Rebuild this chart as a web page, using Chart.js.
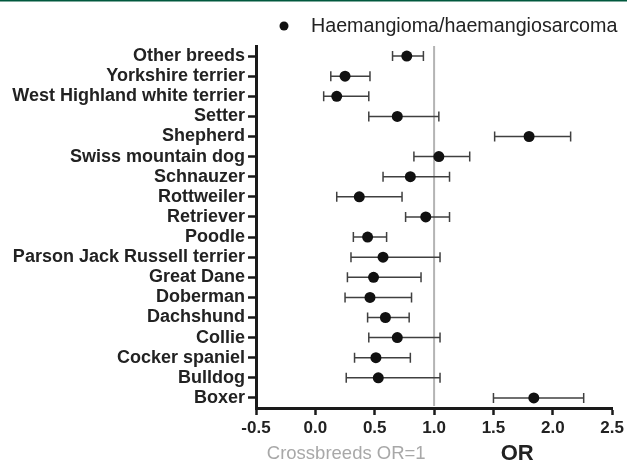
<!DOCTYPE html>
<html>
<head>
<meta charset="utf-8">
<script src="https://cdn.jsdelivr.net/npm/chart.js@4"></script>
<style>
  html, body { margin: 0; padding: 0; background: #fff; }
  #wrap { width: 627px; height: 463px; position: relative; }
</style>
</head>
<body>
<div id="wrap"><canvas id="chart" width="627" height="463"></canvas></div>
<script>
// breeds, top to bottom
const breeds = [
  'Other breeds', 'Yorkshire terrier', 'West Highland white terrier', 'Setter',
  'Shepherd', 'Swiss mountain dog', 'Schnauzer', 'Rottweiler', 'Retriever',
  'Poodle', 'Parson Jack Russell terrier', 'Great Dane', 'Doberman',
  'Dachshund', 'Collie', 'Cocker spaniel', 'Bulldog', 'Boxer'
];
const oddsRatio = [0.77, 0.25, 0.18, 0.69, 1.80, 1.04, 0.80, 0.37, 0.93, 0.44, 0.57, 0.49, 0.46, 0.59, 0.69, 0.51, 0.53, 1.84];
const ciLower   = [0.65, 0.13, 0.07, 0.45, 1.51, 0.83, 0.57, 0.18, 0.76, 0.32, 0.30, 0.27, 0.25, 0.44, 0.45, 0.33, 0.26, 1.50];
const ciUpper   = [0.91, 0.46, 0.45, 1.04, 2.15, 1.30, 1.13, 0.73, 1.13, 0.60, 1.05, 0.89, 0.81, 0.79, 1.05, 0.80, 1.05, 2.26];
const xTicks = [-0.5, 0.0, 0.5, 1.0, 1.5, 2.0, 2.5];
const seriesName = 'Haemangioma/haemangiosarcoma';
const refValue = 1.0;

const FONT = '"Liberation Sans", Arial, sans-serif';

const points = breeds.map((b, i) => ({ x: oddsRatio[i], y: b }));

const forestPlugin = {
  id: 'forest',
  beforeDatasetsDraw(chart) {
    const { ctx, chartArea, scales: { x, y } } = chart;
    ctx.save();
    // crossbreed reference line
    const rx = x.getPixelForValue(refValue);
    ctx.strokeStyle = '#b4b4b4';
    ctx.lineWidth = 2;
    ctx.beginPath();
    ctx.moveTo(rx, chartArea.top);
    ctx.lineTo(rx, chartArea.bottom - 2);
    ctx.stroke();

    // confidence intervals
    ctx.strokeStyle = '#404040';
    ctx.lineWidth = 1.5;
    breeds.forEach((b, i) => {
      const py = y.getPixelForValue(i);
      const x1 = x.getPixelForValue(ciLower[i]);
      const x2 = x.getPixelForValue(ciUpper[i]);
      ctx.beginPath();
      ctx.moveTo(x1, py); ctx.lineTo(x2, py);
      ctx.moveTo(x1, py - 5); ctx.lineTo(x1, py + 5);
      ctx.moveTo(x2, py - 5); ctx.lineTo(x2, py + 5);
      ctx.stroke();
    });
    ctx.restore();
  },
  afterDraw(chart) {
    const { ctx, scales: { x } } = chart;
    ctx.save();
    // top rule
    ctx.fillStyle = '#00583d';
    ctx.fillRect(0, 0, chart.width, 1.5);

    // legend
    ctx.fillStyle = '#111';
    ctx.beginPath();
    ctx.arc(284, 26, 4.5, 0, Math.PI * 2);
    ctx.fill();
    ctx.font = '19.7px ' + FONT;
    ctx.fillStyle = '#222';
    ctx.textBaseline = 'middle';
    ctx.textAlign = 'left';
    ctx.fillText(seriesName, 311, 27);

    // axis captions
    ctx.textAlign = 'center';
    ctx.font = '18.5px ' + FONT;
    ctx.fillStyle = '#a8a8a8';
    ctx.fillText('Crossbreeds OR=1', x.getPixelForValue(0.26), 454);
    ctx.font = 'bold 22px ' + FONT;
    ctx.fillStyle = '#222';
    ctx.fillText('OR', x.getPixelForValue(1.70), 454);
    ctx.restore();
  }
};

new Chart(document.getElementById('chart'), {
  type: 'scatter',
  data: {
    labels: breeds,
    datasets: [{
      label: seriesName,
      data: points,
      pointRadius: 5.5,
      pointHoverRadius: 5.5,
      backgroundColor: '#111',
      borderColor: '#111',
      borderWidth: 0
    }]
  },
  options: {
    responsive: false,
    animation: false,
    events: [],
    layout: { padding: { top: 46, right: 14, left: 0, bottom: 0 } },
    plugins: {
      legend: { display: false },
      tooltip: { enabled: false }
    },
    scales: {
      x: {
        type: 'linear',
        min: -0.5,
        max: 2.5,
        afterBuildTicks: (scale) => { scale.ticks = xTicks.map(v => ({ value: v })); },
        afterFit: (scale) => { scale.height = 55; },
        border: { display: true, color: '#1a1a1a', width: 3 },
        grid: { drawOnChartArea: false, drawTicks: true, tickLength: 7, tickWidth: 2.5, color: '#1a1a1a' },
        ticks: {
          callback: (v) => Number(v).toFixed(1),
          color: '#222',
          padding: 3,
          maxRotation: 0,
          font: { family: FONT, size: 17, weight: 'bold' }
        }
      },
      y: {
        type: 'category',
        labels: breeds,
        offset: true,
        afterFit: (scale) => { scale.width = 256; },
        border: { display: true, color: '#1a1a1a', width: 3 },
        grid: { drawOnChartArea: false, drawTicks: true, tickLength: 8, tickWidth: 2.5, color: '#1a1a1a' },
        ticks: {
          autoSkip: false,
          color: '#222',
          padding: 3,
          font: { family: FONT, size: 18, weight: 'bold' }
        }
      }
    }
  },
  plugins: [forestPlugin]
});
</script>
</body>
</html>
